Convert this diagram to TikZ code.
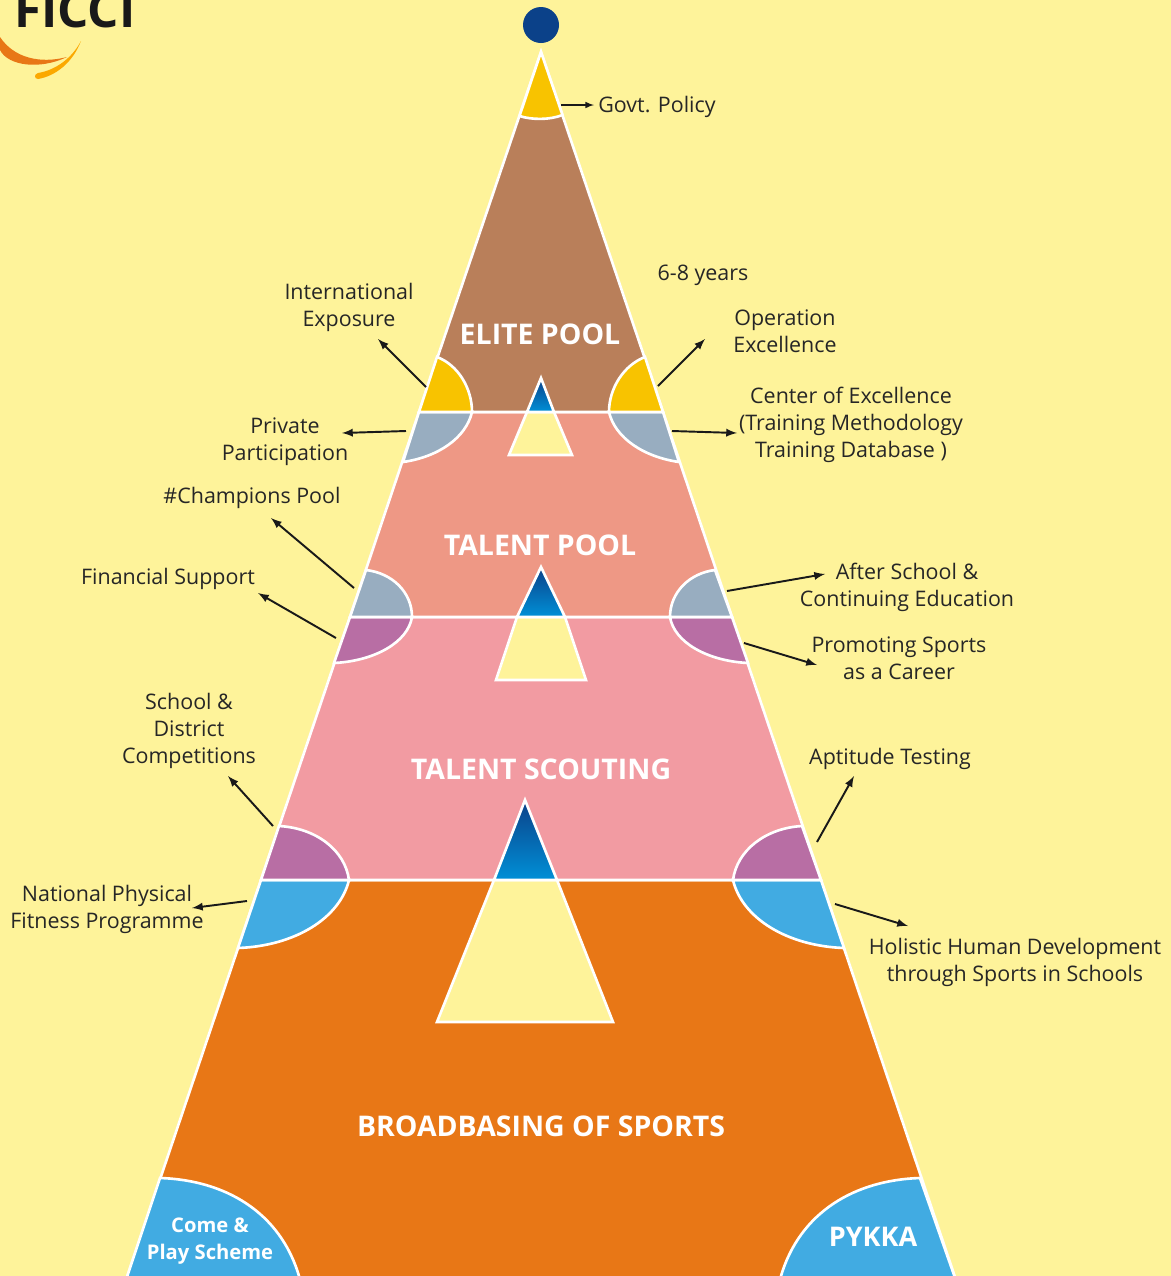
\documentclass[tikz,border=0pt]{standalone}
\usepackage{fontspec}
\setmainfont{Open Sans}
\usepackage{tikz}
\definecolor{paper}{HTML}{FEF39A}
\definecolor{elitebrown}{HTML}{B97F5A}
\definecolor{talentsalmon}{HTML}{EE9885}
\definecolor{scoutpink}{HTML}{F29BA2}
\definecolor{broadorange}{HTML}{E87716}
\definecolor{capgold}{HTML}{F8C300}
\definecolor{capslate}{HTML}{98ADC0}
\definecolor{cappurple}{HTML}{B86EA4}
\definecolor{capblue}{HTML}{41ABE2}
\definecolor{navy}{HTML}{0B4189}
\definecolor{skyblue}{HTML}{0090D7}
\tikzset{
	band/.style={fill=#1, draw=white, line width=1.5pt, line join=miter},
	pointer/.style={-latex, line width=1.1pt, color=black!90},
	caption/.style={align=center, inner sep=0pt, text=black!85, font=\fontsize{12.2}{15.3}\selectfont},
	tierlabel/.style={align=center, inner sep=0pt, text=white, font=\fontsize{16.2}{18}\selectfont\bfseries},
}
\def\roundcap[#1](#2)(#3)(#4)(#5)(#6){\draw[band=#1] (#2) .. controls (#3) and (#4) .. (#5) -- (#6) -- cycle;}
\def\bluepeak(#1)(#2)(#3){\shade[top color=navy, bottom color=skyblue, draw=white, line width=1.5pt] (#1) -- (#2) -- (#3) -- cycle;}

\begin{document}
\begin{tikzpicture}[x=0.02cm, y=-0.02cm]
		%%%%% START %%%%%
		\useasboundingbox (0, 0) rectangle (1171, 1276);
		\clip (0, 0) rectangle (1171, 1276);
		\fill[paper] (0, 0) rectangle (1171, 1276);
		
		% logo
		\node[inner sep=0pt, anchor=base west, text=black!90, font=\fontsize{28}{28}\selectfont\bfseries] (logo) at (14, 27) {FICCI};
		\fill[broadorange] (0, 37) .. controls (14, 58) and (40, 64) .. (67, 57) .. controls (40, 70) and (8, 66) .. (0, 50) -- cycle;
		\fill[capgold!60!orange] (81, 41) .. controls (73, 62) and (56, 76) .. (38, 79) .. controls (34, 79) and (34, 74) .. (38, 73) .. controls (56, 70) and (72, 58) .. (81, 41) -- cycle;
		
		% bands
		\draw[band=broadorange] (261, 880) -- (821, 880) -- (960, 1292) -- (122, 1292) -- cycle;
		\draw[band=scoutpink] (350, 617) -- (732, 617) -- (821, 880) -- (261, 880) -- cycle;
		\draw[band=talentsalmon] (419, 412) -- (663, 412) -- (732, 617) -- (350, 617) -- cycle;
		\draw[band=elitebrown] (541, 52) -- (663, 412) -- (419, 412) -- cycle;
		\draw[band=capgold] (541, 52) -- (562.5, 115) .. controls (550, 120) and (532, 120) .. (519.5, 116) -- cycle;
		\fill[navy] (541, 25) circle (18);
		
		% elite caps
		\roundcap[capslate](472, 412)(466, 438)(438, 457)(403, 462)(419, 412);
		\roundcap[capslate](609, 412)(615, 438)(644, 457)(679, 462)(663, 412);
		\roundcap[capgold](437, 357)(458, 365)(472, 388)(472, 412)(419, 412);
		\roundcap[capgold](645, 357)(624, 365)(609, 388)(609, 412)(663, 412);
		
		% talent caps
		\roundcap[cappurple](412, 617)(408, 642)(375, 661)(334, 663)(350, 617);
		\roundcap[cappurple](670, 617)(674, 642)(707, 661)(748, 663)(732, 617);
		\roundcap[capslate](366, 570)(392, 573)(412, 592)(412, 617)(350, 617);
		\roundcap[capslate](715, 570)(690, 573)(670, 592)(670, 617)(732, 617);
		
		% scouting caps
		\roundcap[capblue](349, 880)(340, 918)(295, 946)(238, 948)(261, 880);
		\roundcap[capblue](733, 880)(742, 918)(787, 946)(844, 948)(821, 880);
		\roundcap[cappurple](279, 826)(316, 828)(345, 850)(349, 880)(261, 880);
		\roundcap[cappurple](802, 826)(766, 828)(737, 850)(733, 880)(821, 880);
		
		% bottom caps
		\draw[band=capblue] (160, 1178) .. controls (225, 1180) and (280, 1212) .. (299, 1276) -- (299, 1292) -- (122, 1292) -- cycle;
		\draw[band=capblue] (920, 1178) .. controls (855, 1180) and (800, 1212) .. (781, 1276) -- (781, 1292) -- (960, 1292) -- cycle;
		
		% inner triangles
		\draw[band=paper] (527, 412) -- (554, 412) -- (572, 455) -- (509, 455) -- cycle;
		\bluepeak(541, 378)(554, 412)(527, 412);
		\draw[band=paper] (517, 617) -- (565, 617) -- (586, 680) -- (496, 680) -- cycle;
		\bluepeak(541, 567)(565, 617)(517, 617);
		\draw[band=paper] (494, 880) -- (557, 880) -- (613, 1022) -- (437, 1022) -- cycle;
		\bluepeak(525, 800)(557, 880)(494, 880);
		
		% tier names
		\node[tierlabel] (elitepool) at (540, 334) {ELITE POOL};
		\node[tierlabel] (talentpool) at (540, 545) {TALENT POOL};
		\node[tierlabel] (talentscouting) at (541, 769) {TALENT SCOUTING};
		\node[tierlabel] (broadbasing) at (541, 1126) {BROADBASING OF SPORTS};
		\node[tierlabel, font=\fontsize{11.5}{15.3}\selectfont\bfseries] (comeplay) at (210, 1241) {Come \&\\Play Scheme};
		\node[tierlabel, font=\fontsize{15.4}{18}\selectfont\bfseries] (pykka) at (873, 1237) {PYKKA};
		
		% captions
		\node[caption] (govtpolicy) at (657, 107) {Govt. Policy};
		\node[caption] (sixeight) at (703, 275) {6-8 years};
		\node[caption] (exposure) at (349, 307) {International\\Exposure};
		\node[caption] (operation) at (785, 331) {Operation\\Excellence};
		\node[caption] (center) at (851, 425) {Center of Excellence\\(Training Methodology\\Training Database )};
		\node[caption] (private) at (285, 442) {Private\\Participation};
		\node[caption] (champions) at (252, 498) {\#Champions Pool};
		\node[caption] (financial) at (168, 579) {Financial Support};
		\node[caption] (afterschool) at (907, 587) {After School \&\\Continuing Education};
		\node[caption] (career) at (899, 658) {Promoting Sports\\as a Career};
		\node[caption] (district) at (189, 731) {School \&\\District\\Competitions};
		\node[caption] (aptitude) at (890, 759) {Aptitude Testing};
		\node[caption] (fitness) at (107, 909) {National Physical\\Fitness Programme};
		\node[caption] (holistic) at (1015, 962) {Holistic Human Development\\through Sports in Schools};
		
		% pointers
		\coordinate (govtfrom) at (561, 105);
		\coordinate (govtto) at (594, 105);
		\coordinate (exposurefrom) at (426, 387);
		\coordinate (exposureto) at (378, 339);
		\coordinate (operationfrom) at (658, 386);
		\coordinate (operationto) at (705, 339);
		\coordinate (privatefrom) at (406, 431);
		\coordinate (privateto) at (342, 433);
		\coordinate (centerfrom) at (672, 431);
		\coordinate (centerto) at (737, 433);
		\coordinate (championsfrom) at (354, 588);
		\coordinate (championsto) at (271, 518);
		\coordinate (financialfrom) at (336, 638);
		\coordinate (financialto) at (258, 593);
		\coordinate (afterfrom) at (727, 591);
		\coordinate (afterto) at (825, 574);
		\coordinate (careerfrom) at (744, 643);
		\coordinate (careerto) at (817, 665);
		\coordinate (districtfrom) at (273, 826);
		\coordinate (districtto) at (228, 776);
		\coordinate (aptitudefrom) at (817, 842);
		\coordinate (aptitudeto) at (854, 776);
		\coordinate (fitnessfrom) at (247, 901);
		\coordinate (fitnessto) at (192, 908);
		\coordinate (holisticfrom) at (835, 904);
		\coordinate (holisticto) at (908, 926);
		
		\draw[pointer, line width=0.7pt] (govtfrom) -- (govtto);
		\draw[pointer] (exposurefrom) -- (exposureto);
		\draw[pointer] (operationfrom) -- (operationto);
		\draw[pointer] (privatefrom) -- (privateto);
		\draw[pointer] (centerfrom) -- (centerto);
		\draw[pointer] (championsfrom) -- (championsto);
		\draw[pointer] (financialfrom) -- (financialto);
		\draw[pointer] (afterfrom) -- (afterto);
		\draw[pointer] (careerfrom) -- (careerto);
		\draw[pointer] (districtfrom) -- (districtto);
		\draw[pointer] (aptitudefrom) -- (aptitudeto);
		\draw[pointer] (fitnessfrom) -- (fitnessto);
		\draw[pointer] (holisticfrom) -- (holisticto);
		
		%%%%% END %%%%%
	\end{tikzpicture}
\end{document}
